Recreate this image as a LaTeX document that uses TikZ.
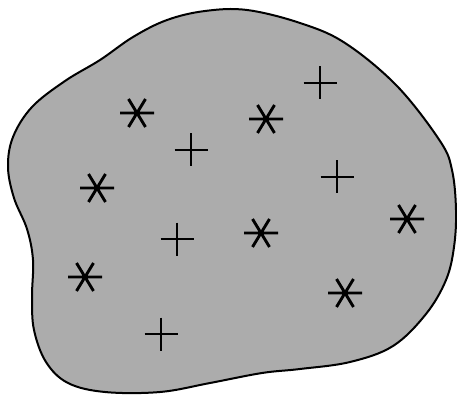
\documentclass[tikz,border=0pt]{standalone}
\usetikzlibrary{calc}
\definecolor{blobgray}{RGB}{172,172,172}
\tikzset{
  x=1pt,y=-1pt,
  blob/.style={fill=blobgray,draw=black,line width=2pt},
  sym/.style={draw=black,line width=2.9pt},
  plussign/.pic={\draw[sym] (-16.5,0) -- (16.5,0) (0,-16.5) -- (0,16.5);},
  astsign/.pic={\draw[sym] (-17,0) -- (17,0) (-8.5,-14) -- (8.5,14) (8.5,-14) -- (-8.5,14);}
}
\begin{document}
\begin{tikzpicture}
\useasboundingbox (0,0) rectangle (457,395);
\draw[blob] plot[smooth cycle, tension=0.6] coordinates {
 (247,10) (300,23) (345,43) (397,86) (440,141) (452,170)
 (456,210) (454,247) (446,280) (426,314) (393,346) (350,362) (300,369)
 (262,373) (210,383) (160,392) (105,392) (68,383) (46,362) (34,330)
 (32,297) (33,260) (27,229) (14,198) (8,167) (13,137) (32,107) (65,81)
 (100,60) (133,37) (167,20) (205,11)};
\pic at (137,113) {astsign};
\pic at (266,119) {astsign};
\pic at (97,188) {astsign};
\pic at (261,233) {astsign};
\pic at (407,219) {astsign};
\pic at (85,277) {astsign};
\pic at (345,293) {astsign};
\pic at (320,83) {plussign};
\pic at (191,150) {plussign};
\pic at (337,177) {plussign};
\pic at (177,239) {plussign};
\pic at (161,334) {plussign};
\end{tikzpicture}
\end{document}
